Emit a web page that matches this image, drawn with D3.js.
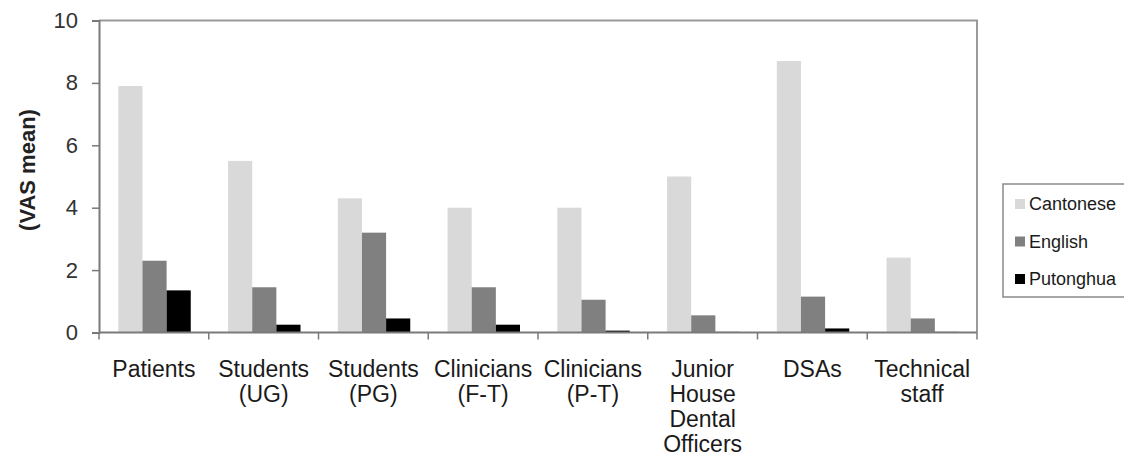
<!DOCTYPE html>
<html>
<head>
<meta charset="utf-8">
<script src="https://cdn.jsdelivr.net/npm/d3@7"></script>
<style>
  html, body { margin: 0; padding: 0; background: #fff; }
  svg { display: block; font-family: Arial, "Liberation Sans", sans-serif; }
</style>
</head>
<body>
<svg id="chart" width="1124" height="458"></svg>
<script>
// Staff/patient groups (multi-line labels split on "\n")
const categories = [
  "Patients",
  "Students\n(UG)",
  "Students\n(PG)",
  "Clinicians\n(F-T)",
  "Clinicians\n(P-T)",
  "Junior\nHouse\nDental\nOfficers",
  "DSAs",
  "Technical\nstaff"
];
const seriesNames = ["Cantonese", "English", "Putonghua"];
const cantonese = [7.9, 5.5, 4.3, 4.0, 4.0, 5.0, 8.7, 2.4];
const english   = [2.3, 1.45, 3.2, 1.45, 1.05, 0.55, 1.15, 0.45];
const putonghua = [1.35, 0.25, 0.45, 0.25, 0.06, 0.02, 0.13, 0.02];
const yTicks = [0, 2, 4, 6, 8, 10];
const yTitle = "(VAS mean)";

const seriesValues = [cantonese, english, putonghua];
const colors = ["#d9d9d9", "#808080", "#000000"];

const svg = d3.select("#chart");
const plot = { left: 99, right: 977, top: 20.5, bottom: 332.5 };

const x0 = d3.scaleBand().domain(categories).range([plot.left, plot.right]).padding(0);
const bw = x0.bandwidth();
const x1 = d3.scaleBand().domain(seriesNames).range([0.176 * bw, 0.836 * bw]).padding(0);
const y = d3.scaleLinear().domain([0, 10]).range([plot.bottom, plot.top]);

// plot frame (top and right edges)
svg.append("path")
  .attr("d", `M${plot.left},${plot.top}H${plot.right}V${plot.bottom}`)
  .attr("fill", "none").attr("stroke", "#9a9a9a").attr("stroke-width", 2);

// bars
const rows = categories.map((c, i) => ({ cat: c, vals: seriesNames.map((s, j) => ({ s, j, v: seriesValues[j][i] })) }));
const groups = svg.append("g").selectAll("g").data(rows).join("g")
  .attr("transform", d => `translate(${x0(d.cat)},0)`);
groups.selectAll("rect").data(d => d.vals).join("rect")
  .attr("x", d => x1(d.s))
  .attr("width", x1.bandwidth())
  .attr("y", d => y(d.v))
  .attr("height", d => y(0) - y(d.v))
  .attr("fill", d => colors[d.j]);

// y axis
const yAxis = d3.axisLeft(y).tickValues(yTicks).tickSize(7).tickPadding(14).tickFormat(d3.format("d"));
const gy = svg.append("g").attr("transform", `translate(${plot.left},0)`).call(yAxis);
gy.select(".domain").attr("stroke", "#7a7a7a").attr("stroke-width", 2);
gy.selectAll(".tick line").attr("stroke", "#7a7a7a").attr("stroke-width", 1.5);
gy.selectAll(".tick text").attr("font-size", 22).attr("fill", "#333")
  .attr("font-family", "Arial, 'Liberation Sans', sans-serif");

// x axis: ticks at category boundaries
const boundaries = categories.map(c => x0(c)).concat([plot.right]);
svg.append("line").attr("x1", plot.left).attr("x2", plot.right)
  .attr("y1", plot.bottom).attr("y2", plot.bottom)
  .attr("stroke", "#7a7a7a").attr("stroke-width", 2);
svg.append("g").selectAll("line").data(boundaries).join("line")
  .attr("x1", d => d).attr("x2", d => d)
  .attr("y1", plot.bottom).attr("y2", plot.bottom + 7)
  .attr("stroke", "#7a7a7a").attr("stroke-width", 1.5);

// x labels
const labels = svg.append("g").selectAll("text").data(categories).join("text")
  .attr("text-anchor", "middle")
  .attr("font-size", 23)
  .attr("fill", "#1a1a1a")
  .attr("transform", d => `translate(${x0(d) + bw / 2},377)`);
labels.selectAll("tspan").data(d => d.split("\n")).join("tspan")
  .attr("x", 0).attr("y", (d, i) => i * 25).text(d => d);

// y title
svg.append("text")
  .attr("transform", "translate(35,170) rotate(-90)")
  .attr("text-anchor", "middle")
  .attr("font-size", 22).attr("font-weight", "bold").attr("fill", "#222")
  .text(yTitle);

// legend
const lg = svg.append("g").attr("transform", "translate(1003,184)");
lg.append("rect").attr("x", 0).attr("y", 0).attr("width", 140).attr("height", 113)
  .attr("fill", "#fff").attr("stroke", "#8a8a8a").attr("stroke-width", 1.5);
const items = lg.selectAll("g.item").data(seriesNames).join("g")
  .attr("class", "item")
  .attr("transform", (d, i) => `translate(12,${15 + i * 37.5})`);
items.append("rect").attr("width", 10).attr("height", 10).attr("fill", (d, i) => colors[i]);
items.append("text").attr("x", 14).attr("y", 11).attr("font-size", 18).attr("fill", "#1a1a1a").text(d => d);
</script>
</body>
</html>
